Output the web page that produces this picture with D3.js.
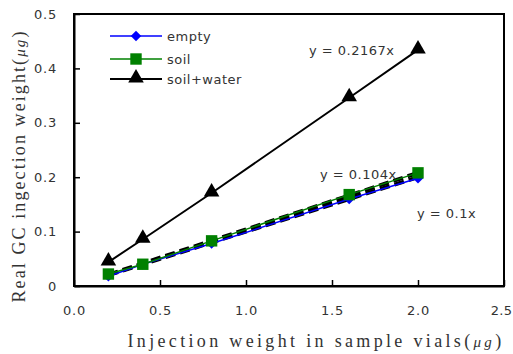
<!DOCTYPE html>
<html><head><meta charset="utf-8">
<script src="https://cdn.jsdelivr.net/npm/d3@7"></script>
<style>body{margin:0;background:#fff}</style>
</head><body>
<svg id="c" width="513" height="354"></svg>
<script>
const xVals = [0.2, 0.4, 0.8, 1.6, 2.0];
const emptyVals = [0.018, 0.040, 0.078, 0.160, 0.198];
const soilVals = [0.022, 0.040, 0.083, 0.168, 0.208];
const soilWaterVals = [0.044, 0.086, 0.171, 0.346, 0.434];
const trendSlopes = [0.1, 0.104];
const trendLabels = ["y = 0.2167x", "y = 0.104x", "y = 0.1x"];
const xTicks = [0, 0.5, 1.0, 1.5, 2.0, 2.5];
const yTicks = [0, 0.1, 0.2, 0.3, 0.4, 0.5];
const seriesNames = ["empty", "soil", "soil+water"];

const svg = d3.select("#c");
const L = 74, R = 504, T = 14, B = 286;
const x = d3.scaleLinear().domain([0, 2.5]).range([L, R]);
const y = d3.scaleLinear().domain([0, 0.5]).range([B, T]);
const tickFont = "'DejaVu Sans', sans-serif";

// frame
svg.append("rect").attr("x", L).attr("y", T).attr("width", R - L).attr("height", B - T)
  .attr("fill", "none").attr("stroke", "#000").attr("stroke-width", 2);

// axes
const xa = svg.append("g").attr("transform", `translate(0,${B})`)
  .call(d3.axisBottom(x).tickValues(xTicks).tickFormat(d3.format(".1f")).tickSizeInner(-6).tickSizeOuter(0).tickPadding(20));
const ya = svg.append("g").attr("transform", `translate(${L},0)`)
  .call(d3.axisLeft(y).tickValues(yTicks).tickFormat(d => d === 0 ? "0" : d3.format(".1f")(d)).tickSizeInner(-6).tickSizeOuter(0).tickPadding(17));
[xa, ya].forEach(g => {
  g.select(".domain").attr("stroke", "#000").attr("stroke-width", 2);
  g.selectAll(".tick line").attr("stroke", "#000").attr("stroke-width", 1.5);
  g.selectAll(".tick text").attr("font-family", tickFont).attr("font-size", 13)
    .attr("fill", "#333").attr("letter-spacing", 0.8);
});
xa.selectAll(".tick text").filter(d => d === 2.5).attr("letter-spacing", 0.3).attr("dx", -3);

// trend lines (dashed)
trendSlopes.forEach(s => {
  svg.append("line").attr("x1", x(0.2)).attr("y1", y(0.2 * s)).attr("x2", x(2.0)).attr("y2", y(2.0 * s))
    .attr("stroke", "#000").attr("stroke-width", 4).attr("stroke-dasharray", "10,5");
});

const line = d3.line().x((d, i) => x(xVals[i])).y(d => y(d));
svg.append("path").datum(emptyVals).attr("d", line).attr("fill", "none").attr("stroke", "#0000ff").attr("stroke-width", 1.5);
svg.append("path").datum(soilVals).attr("d", line).attr("fill", "none").attr("stroke", "#008000").attr("stroke-width", 1.5);
svg.append("path").datum(soilWaterVals).attr("d", line).attr("fill", "none").attr("stroke", "#000").attr("stroke-width", 2);

const diamond = d3.symbol().type(d3.symbolDiamond2).size(70);
const square = d3.symbol().type(d3.symbolSquare).size(130);
const tri = d3.symbol().type(d3.symbolTriangle).size(105);

svg.append("g").selectAll("path").data(emptyVals).join("path")
  .attr("transform", (d, i) => `translate(${x(xVals[i])},${y(d)})`).attr("d", diamond).attr("fill", "#0000ff");
svg.append("g").selectAll("path").data(soilVals).join("path")
  .attr("transform", (d, i) => `translate(${x(xVals[i])},${y(d)})`).attr("d", square).attr("fill", "#008000");
svg.append("g").selectAll("path").data(soilWaterVals).join("path")
  .attr("transform", (d, i) => `translate(${x(xVals[i])},${y(d) - 1})`).attr("d", tri).attr("fill", "#000");

// annotations
const ann = [[309, 55], [320, 179], [417, 218]];
trendLabels.forEach((t, i) => {
  svg.append("text").attr("x", ann[i][0]).attr("y", ann[i][1]).text(t)
    .attr("font-family", tickFont).attr("font-size", 13).attr("fill", "#333").attr("letter-spacing", 0.5);
});

// legend
const legCols = ["#0000ff", "#008000", "#000"];
const legSyms = [diamond, square, tri];
const legY = [36, 59, 79];
seriesNames.forEach((n, i) => {
  svg.append("line").attr("x1", 110).attr("x2", 162).attr("y1", legY[i]).attr("y2", legY[i])
    .attr("stroke", legCols[i]).attr("stroke-width", i === 2 ? 2 : 1.5);
  svg.append("path").attr("transform", `translate(136,${legY[i] - (i === 2 ? 1 : 0)})`).attr("d", legSyms[i]).attr("fill", legCols[i]);
  svg.append("text").attr("x", 167).attr("y", legY[i] + 5).text(n)
    .attr("font-family", tickFont).attr("font-size", 13).attr("fill", "#333").attr("letter-spacing", 0.5);
});

// axis titles
function fitSpacing(t, target) {
  const ls0 = 1;
  t.attr("letter-spacing", ls0);
  const w = t.node().getComputedTextLength();
  const n = t.text().length;
  t.attr("letter-spacing", ls0 + (target - w) / n);
}
const serif = "'Liberation Serif', 'DejaVu Serif', serif";
const xt = svg.append("text").attr("x", 316).attr("y", 347).attr("text-anchor", "middle")
  .attr("font-family", serif).attr("font-size", 18).attr("fill", "#333");
xt.append("tspan").text("Injection weight in sample vials(");
xt.append("tspan").text("μg").attr("font-style", "italic").attr("font-size", 15);
xt.append("tspan").text(")");
fitSpacing(xt, 377);

const yt = svg.append("text").attr("transform", "translate(25,166) rotate(-90)").attr("text-anchor", "middle")
  .attr("font-family", serif).attr("font-size", 18).attr("fill", "#333");
yt.append("tspan").text("Real GC ingection weight(");
yt.append("tspan").text("μg").attr("font-style", "italic").attr("font-size", 15);
yt.append("tspan").text(")");
fitSpacing(yt, 273);
</script>
</body></html>
